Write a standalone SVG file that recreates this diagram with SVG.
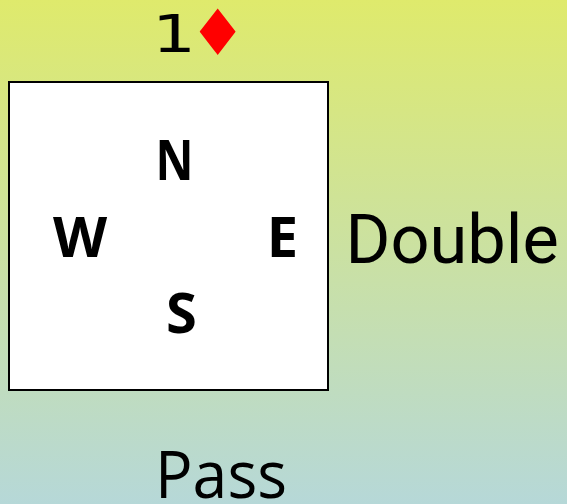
<svg xmlns="http://www.w3.org/2000/svg" width="567" height="504" viewBox="0 0 567 504">
<defs>
<linearGradient id="bg" x1="0" y1="0" x2="0" y2="1">
<stop offset="0" stop-color="#dfea6c"/>
<stop offset="1" stop-color="#b6d8d8"/>
</linearGradient>
</defs>
<style>
.t{font-family:"Open Sans","Liberation Sans",sans-serif;fill:#000}
.b{font-family:"Open Sans","Liberation Sans",sans-serif;font-weight:bold;font-size:56px;fill:#000}
</style>
<rect x="0" y="0" width="567" height="504" fill="url(#bg)"/>
<g id="bid">
<text x="152" y="52" font-family="DejaVu Sans,sans-serif" font-size="51" textLength="44" lengthAdjust="spacingAndGlyphs" fill="#000">1</text>
<text x="189" y="55" font-family="DejaVu Sans,sans-serif" font-size="64" fill="#ff0000">♦</text>
</g>
<g id="table">
<rect x="9" y="82" width="319" height="308" fill="#fff" stroke="#000" stroke-width="2"/>
<text class="b" x="174.5" y="180" text-anchor="middle" textLength="38" lengthAdjust="spacingAndGlyphs">N</text>
<text class="b" x="80" y="257" text-anchor="middle">W</text>
<text class="b" x="282.5" y="257" text-anchor="middle">E</text>
<text class="b" x="181.5" y="333" text-anchor="middle">S</text>
</g>
<g id="double">
<text x="345.5" y="263" font-family="Roboto,'Open Sans',sans-serif" font-size="68.5" fill="#000">Double</text>
</g>
<g id="pass">
<text class="t" x="155" y="498" font-size="66" textLength="132" lengthAdjust="spacingAndGlyphs">Pass</text>
</g>
</svg>
